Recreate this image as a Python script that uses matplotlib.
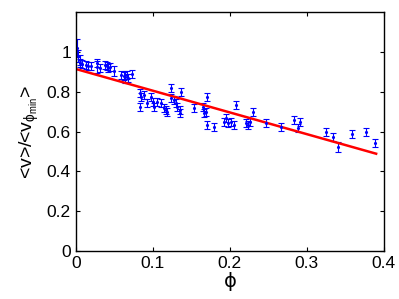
import numpy as np
import matplotlib
matplotlib.use('Agg')
import matplotlib.pyplot as plt

# measured points: volume fraction phi, normalised mean speed, error half-width
phi = [0.001, 0.003, 0.005, 0.006, 0.008, 0.013, 0.016, 0.020, 0.027, 0.028,
       0.031, 0.038, 0.040, 0.042, 0.045, 0.049, 0.059, 0.062, 0.064, 0.066,
       0.068, 0.073, 0.083, 0.085, 0.084, 0.089, 0.093, 0.098, 0.100, 0.102,
       0.106, 0.111, 0.115, 0.117, 0.119, 0.123, 0.124, 0.128, 0.130, 0.132,
       0.135, 0.135, 0.137, 0.154, 0.165, 0.167, 0.171, 0.169, 0.171, 0.180,
       0.195, 0.193, 0.197, 0.202, 0.206, 0.208, 0.221, 0.223, 0.226, 0.230,
       0.247, 0.267, 0.283, 0.291, 0.289, 0.325, 0.334, 0.341, 0.359, 0.377,
       0.388]
v_ratio = [1.02, 0.98, 0.96, 0.945, 0.94, 0.936, 0.93, 0.93, 0.945, 0.925,
           0.92, 0.936, 0.93, 0.92, 0.925, 0.905, 0.885, 0.88, 0.875, 0.885,
           0.87, 0.89, 0.795, 0.775, 0.725, 0.785, 0.745, 0.775, 0.75, 0.725,
           0.75, 0.745, 0.72, 0.71, 0.70, 0.82, 0.77, 0.76, 0.745, 0.725,
           0.71, 0.695, 0.80, 0.72, 0.725, 0.695, 0.775, 0.70, 0.633, 0.625,
           0.67, 0.65, 0.643, 0.65, 0.633, 0.734, 0.643, 0.633, 0.648, 0.70,
           0.643, 0.625, 0.658, 0.65, 0.618, 0.60, 0.574, 0.524, 0.588, 0.60,
           0.543]
v_err = [0.045, 0.03, 0.025, 0.02, 0.02, 0.02, 0.02, 0.02, 0.02, 0.03,
         0.02, 0.02, 0.02, 0.02, 0.02, 0.025, 0.02, 0.02, 0.03, 0.02,
         0.02, 0.02, 0.02, 0.02, 0.02, 0.02, 0.02, 0.02, 0.02, 0.02,
         0.02, 0.02, 0.02, 0.02, 0.02, 0.02, 0.02, 0.02, 0.02, 0.02,
         0.02, 0.02, 0.02, 0.02, 0.02, 0.02, 0.02, 0.02, 0.02, 0.02,
         0.02, 0.02, 0.02, 0.02, 0.02, 0.02, 0.02, 0.02, 0.02, 0.02,
         0.02, 0.02, 0.02, 0.02, 0.02, 0.02, 0.02, 0.025, 0.02, 0.02,
         0.02]

# linear fit drawn over the data
fit_intercept = 0.914
fit_slope = -1.09
fit_range = [0.003, 0.39]

plt.rcParams['font.family'] = ['Liberation Sans', 'DejaVu Sans']
plt.rcParams['mathtext.fontset'] = 'custom'
plt.rcParams['mathtext.rm'] = 'Liberation Sans'
plt.rcParams['mathtext.it'] = 'Liberation Sans'

fig = plt.figure(figsize=(3.99, 2.99), dpi=100)
ax = fig.add_axes([0.19, 0.16, 0.772, 0.80])

ax.errorbar(phi, v_ratio, yerr=v_err, fmt='.', color='blue', markersize=2.5,
            elinewidth=0.8, capsize=2.2, capthick=0.8)

fit_x = np.array(fit_range)
ax.plot(fit_x, fit_intercept + fit_slope * fit_x, color='red', linewidth=1.8)

ax.set_xlim(0, 0.4)
ax.set_ylim(0, 1.2)
ax.set_xticks([0, 0.1, 0.2, 0.3, 0.4])
ax.set_xticklabels(['0', '0.1', '0.2', '0.3', '0.4'])
ax.set_yticks([0, 0.2, 0.4, 0.6, 0.8, 1.0])
ax.set_yticklabels(['0', '0.2', '0.4', '0.6', '0.8', '1'])
ax.tick_params(direction='in', top=True, right=True, labelsize=12.5, length=3, width=0.8)
for s in ax.spines.values():
    s.set_linewidth(1.0)

ax.set_xlabel('ϕ', fontsize=14, labelpad=1, family=['DejaVu Sans'])
ax.set_ylabel(r'<v>/<v$_{ϕ_{\rm min}}$>', fontsize=14, labelpad=4)

fig.savefig('out.png', dpi=100)
